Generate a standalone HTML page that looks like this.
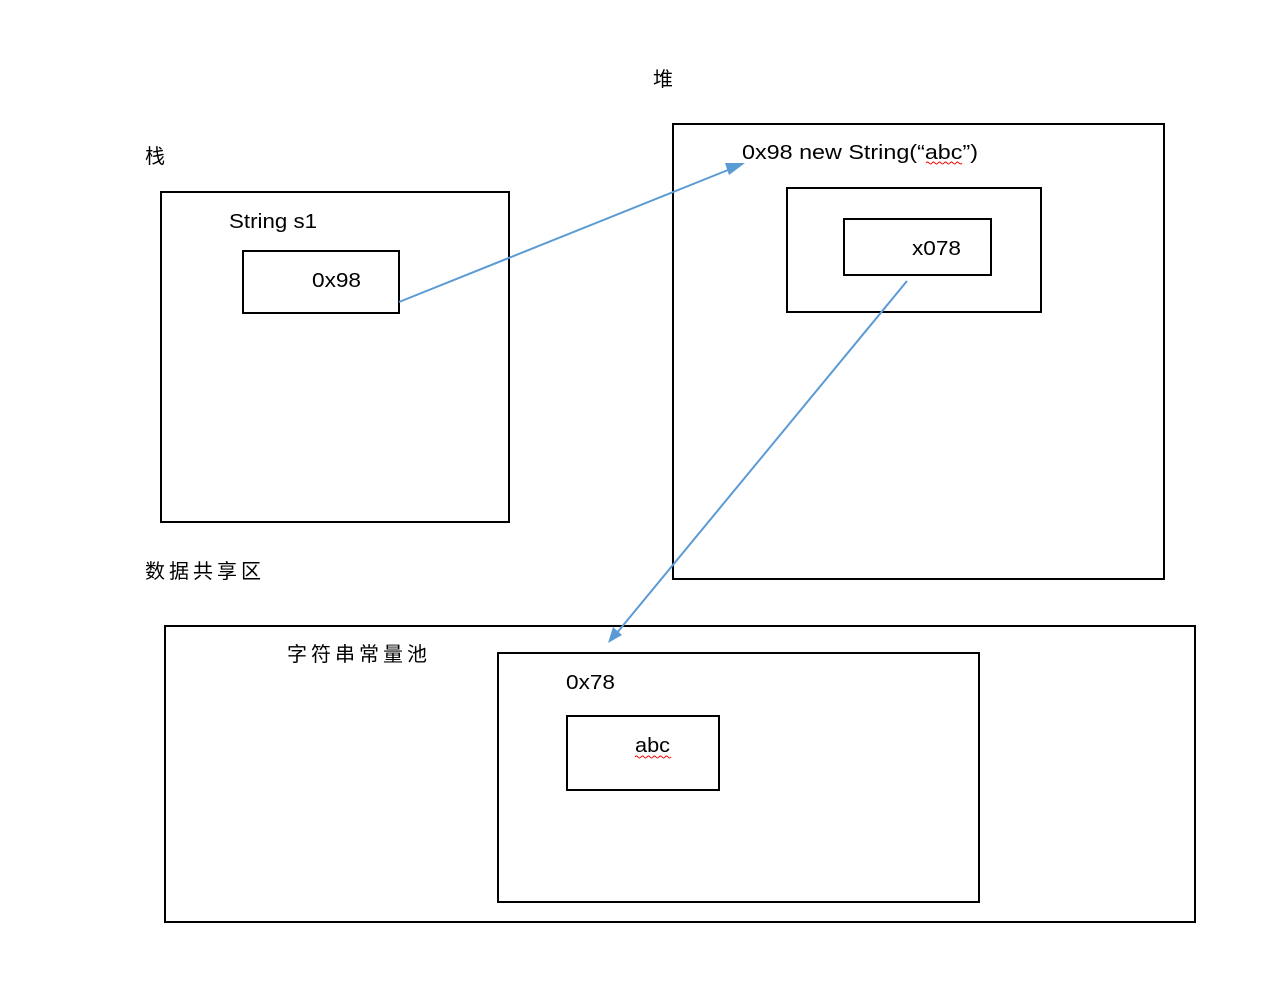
<!DOCTYPE html>
<html><head><meta charset="utf-8"><style>
html,body{margin:0;padding:0;background:#fff;}
svg{display:block;}
text{font-family:"Liberation Sans","Noto Sans CJK SC",sans-serif;font-size:20px;fill:#000;}
.cjk{font-family:"Noto Sans CJK SC",sans-serif;letter-spacing:4px;}
</style></head><body>
<svg width="1265" height="1007" viewBox="0 0 1265 1007" xmlns="http://www.w3.org/2000/svg">
<g fill="none" stroke="#000" stroke-width="2">
<rect x="161" y="192" width="348" height="330"/>
<rect x="243" y="251" width="156" height="62"/>
<rect x="673" y="124" width="491" height="455"/>
<rect x="787" y="188" width="254" height="124"/>
<rect x="844" y="219" width="147" height="56"/>
<rect x="165" y="626" width="1030" height="296"/>
<rect x="498" y="653" width="481" height="249"/>
<rect x="567" y="716" width="152" height="74"/>
</g>
<text x="653" y="86" class="cjk">堆</text>
<text x="145" y="163" class="cjk">栈</text>
<text x="229" y="228" textLength="88" lengthAdjust="spacingAndGlyphs">String s1</text>
<text x="312" y="287" textLength="49" lengthAdjust="spacingAndGlyphs">0x98</text>
<text x="742" y="159" textLength="236" lengthAdjust="spacingAndGlyphs">0x98 new String(“abc”)</text>
<text x="912" y="255" textLength="49" lengthAdjust="spacingAndGlyphs">x078</text>
<text x="145" y="578" class="cjk">数据共享区</text>
<text x="287" y="661" class="cjk">字符串常量池</text>
<text x="566" y="689" textLength="49" lengthAdjust="spacingAndGlyphs">0x78</text>
<text x="635" y="752" textLength="35" lengthAdjust="spacingAndGlyphs">abc</text>
<g fill="none" stroke="#e00" stroke-width="1">
<path d="M926 163 q1.5 -2 3 0 t3 0 t3 0 t3 0 t3 0 t3 0 t3 0 t3 0 t3 0 t3 0 t3 0 t3 0"/>
<path d="M635 757 q1.5 -2 3 0 t3 0 t3 0 t3 0 t3 0 t3 0 t3 0 t3 0 t3 0 t3 0 t3 0 t3 0"/>
</g>
<g stroke="#5b9bd5" stroke-width="2" fill="#5b9bd5">
<line x1="399" y1="302" x2="733" y2="168"/>
<polygon points="745,163 729,175 725,163" stroke="none"/>
<line x1="907" y1="281" x2="616" y2="634"/>
<polygon points="608,643 613,627 622,635" stroke="none"/>
</g>
</svg>
</body></html>
